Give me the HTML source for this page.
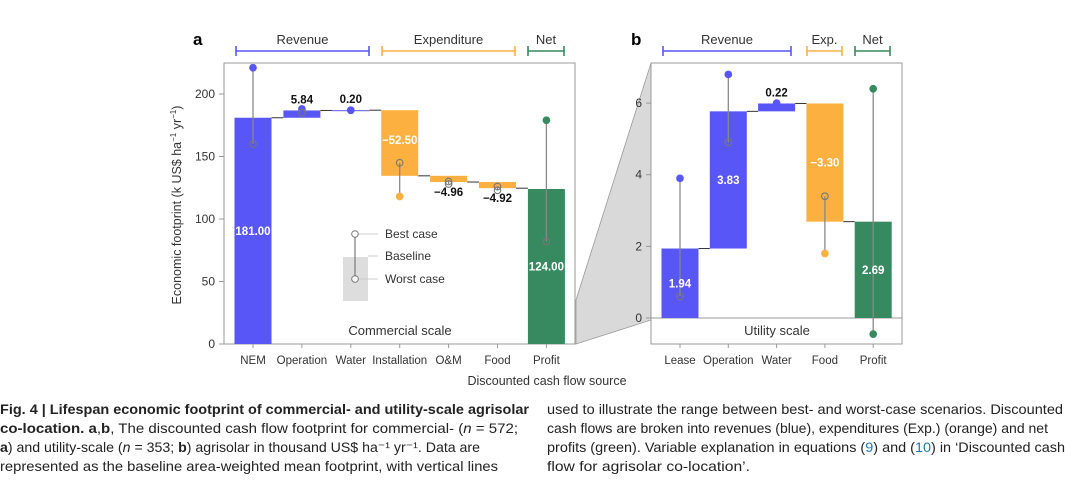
<!DOCTYPE html>
<html><head><meta charset="utf-8"><style>
body{margin:0;background:#fff;width:1080px;height:496px;overflow:hidden;font-family:"Liberation Sans",sans-serif}
svg text{font-family:"Liberation Sans",sans-serif}
</style></head><body>
<svg id="fig" width="1080" height="496" viewBox="0 0 1080 496" xmlns="http://www.w3.org/2000/svg">
<polygon points="576,300 651,63 651,320 576,344" fill="#d9d9d9" stroke="#999" stroke-width="0.8"/>
<g id="pa"></g>
<g id="pb"></g>
<text x="193" y="45" font-size="17" font-weight="bold">a</text>
<text x="631" y="45" font-size="17" font-weight="bold">b</text>
<text transform="translate(181,205) rotate(-90)" text-anchor="middle" font-size="12.5" fill="#333">Economic footprint (k US$ ha<tspan dy="-5" font-size="8">−1</tspan><tspan dy="5"> yr</tspan><tspan dy="-5" font-size="8">−1</tspan><tspan dy="5">)</tspan></text>
<text x="547" y="385" text-anchor="middle" font-size="12.5" fill="#333">Discounted cash flow source</text>
<g>
<rect x="343" y="257" width="25" height="44" fill="#ddd"/>
<line x1="355" y1="234" x2="355" y2="279" stroke="#777" stroke-width="1.2"/>
<line x1="359" y1="234" x2="378" y2="234" stroke="#ccc"/><line x1="368" y1="256" x2="378" y2="256" stroke="#ccc"/><line x1="359" y1="279" x2="378" y2="279" stroke="#ccc"/>
<circle cx="355" cy="234" r="3.3" fill="#fff" stroke="#777"/><circle cx="355" cy="279" r="3.3" fill="#fff" stroke="#777"/>
<text x="385" y="238" font-size="12" fill="#333">Best case</text>
<text x="385" y="260" font-size="12" fill="#333">Baseline</text>
<text x="385" y="283" font-size="12" fill="#333">Worst case</text>
</g>
<text x="400" y="335" text-anchor="middle" font-size="13" fill="#333">Commercial scale</text>
<text x="777" y="335" text-anchor="middle" font-size="13" fill="#333">Utility scale</text>
<g font-size="14" fill="#222">
<text x="0" y="414" textLength="529" lengthAdjust="spacingAndGlyphs"><tspan font-weight="bold">Fig. 4 | Lifespan economic footprint of commercial- and utility-scale agrisolar</tspan></text>
<text x="0" y="433" textLength="518" lengthAdjust="spacingAndGlyphs"><tspan font-weight="bold">co-location. a</tspan>,<tspan font-weight="bold">b</tspan>, The discounted cash flow footprint for commercial- (<tspan font-style="italic">n</tspan> = 572;</text>
<text x="0" y="452" textLength="480" lengthAdjust="spacingAndGlyphs"><tspan font-weight="bold">a</tspan>) and utility-scale (<tspan font-style="italic">n</tspan> = 353; <tspan font-weight="bold">b</tspan>) agrisolar in thousand US$ ha⁻¹ yr⁻¹. Data are</text>
<text x="0" y="471" textLength="498" lengthAdjust="spacingAndGlyphs">represented as the baseline area-weighted mean footprint, with vertical lines</text>
<text x="547" y="414" textLength="516" lengthAdjust="spacingAndGlyphs">used to illustrate the range between best- and worst-case scenarios. Discounted</text>
<text x="547" y="433" textLength="501" lengthAdjust="spacingAndGlyphs">cash flows are broken into revenues (blue), expenditures (Exp.) (orange) and net</text>
<text x="547" y="452" textLength="518" lengthAdjust="spacingAndGlyphs">profits (green). Variable explanation in equations (<tspan fill="#1a7ab8">9</tspan>) and (<tspan fill="#1a7ab8">10</tspan>) in ‘Discounted cash</text>
<text x="547" y="471" textLength="203" lengthAdjust="spacingAndGlyphs">flow for agrisolar co-location’.</text>
</g>
</svg>
<script>
// Panel a data
const catsA = ["NEM","Operation","Water","Installation","O&M","Food","Profit"];
const deltaA = [181.00, 5.84, 0.20, -52.50, -4.96, -4.92, 124.00];
const labelsA = ["181.00","5.84","0.20","−52.50","−4.96","−4.92","124.00"];
const bestA = [221, 188, 187, 145, 130, 126, 179];
const worstA = [160, 185, 187, 118, 128, 123, 82];
const ticksA = [0, 50, 100, 150, 200];
// Panel b data
const catsB = ["Lease","Operation","Water","Food","Profit"];
const deltaB = [1.94, 3.83, 0.22, -3.30, 2.69];
const labelsB = ["1.94","3.83","0.22","−3.30","2.69"];
const bestB = [3.9, 6.8, 6.0, 3.4, 6.4];
const worstB = [0.6, 4.9, 5.95, 1.8, -0.45];
const ticksB = [0, 2, 4, 6];

const NS="http://www.w3.org/2000/svg";
const BLUE="#5856f6",ORANGE="#fbb040",GREEN="#378a5f";
function mk(p,tag,attrs,txt){const e=document.createElementNS(NS,tag);for(const k in attrs)e.setAttribute(k,attrs[k]);if(txt!==undefined)e.textContent=txt;p.appendChild(e);return e;}

function panel(g,cfg){
  const {cats,delta,labels,best,worst,ticks,x0,x1,y0,y1,vmin,vmax,cx0,step,kinds,filledBest,filledWorst,groups}=cfg;
  const y=v=>y1-(v-vmin)/(vmax-vmin)*(y1-y0);
  const x=i=>cx0+i*step;
  const bw=37;
  const fr=mk(g,'rect',{x:x0,y:y0,width:x1-x0,height:cfg.y1b-y0,fill:'none',stroke:'#999','stroke-width':1});
  
  if(cfg.y1b!==y1){const zl=mk(g,'line',{x1:x0,x2:x1,y1:y(0),y2:y(0),stroke:'#999'});}
  ticks.forEach(t=>{
    const tl=mk(g,'line',{x1:x0-5,x2:x0,y1:y(t),y2:y(t),stroke:'#999'});
    
    const tt=mk(g,'text',{x:x0-9,y:y(t)+4,'text-anchor':'end','font-size':12,fill:'#333'},String(t));
    
  });
  let run=0;
  cats.forEach((c,i)=>{
    const k=kinds[i];let lo,hi;
    if(k==='net'){lo=0;hi=delta[i];run=delta[i];}
    else{const s=run;run+=delta[i];lo=Math.min(s,run);hi=Math.max(s,run);}
    const col=k==='rev'?BLUE:k==='exp'?ORANGE:GREEN;
    if(i<cats.length-1){const nl=mk(g,'line',{x1:x(i)+bw/2,x2:x(i+1)-bw/2,y1:y(run),y2:y(run),stroke:'#333','stroke-width':1});}
    const r=mk(g,'rect',{x:x(i)-bw/2,y:y(hi),width:bw,height:Math.max(1,y(lo)-y(hi)),fill:col});
    
    
    const wl=mk(g,'line',{x1:x(i),x2:x(i),y1:y(best[i]),y2:y(worst[i]),stroke:'#888','stroke-width':1.3});
    
    [[best[i],filledBest[i]],[worst[i],filledWorst[i]]].forEach(([v,f])=>{
      const d=mk(g,'circle',{cx:x(i),cy:y(v),r:3.3,fill:f?col:'none',stroke:f?col:'#777','stroke-width':1.1});
      
    });
    const h=y(lo)-y(hi);let ly,fill;
    if(h>22){ly=(y(lo)+y(hi))/2+4;fill='#fff';}
    else if(delta[i]>=0){ly=y(hi)-7;fill='#111';}else{ly=y(lo)+14;fill='#111';}
    if(cfg.labelY&&cfg.labelY[i]!==null){ly=y(cfg.labelY[i]);}
    const lt=mk(g,'text',{x:x(i),y:ly,'text-anchor':'middle','font-size':11.5,'font-weight':'bold',fill:fill},labels[i]);
    
    const xt=mk(g,'line',{x1:x(i),x2:x(i),y1:cfg.y1b,y2:cfg.y1b+4,stroke:'#999'});
    
    const xl=mk(g,'text',{x:x(i),y:cfg.y1b+20,'text-anchor':'middle','font-size':11.5,fill:'#333'},c);
    
  });
  groups.forEach(([name,a,b,col])=>{
    const gl=mk(g,'path',{d:`M${a},46V56M${a},51H${b}M${b},46V56`,stroke:col,'stroke-width':1.6,fill:'none'});
    
    const gt=mk(g,'text',{x:(a+b)/2,y:44,'text-anchor':'middle','font-size':13,fill:'#333'},name);
    
  });
}
panel(document.getElementById('pa'),{cats:catsA,delta:deltaA,labels:labelsA,best:bestA,worst:worstA,ticks:ticksA,
  x0:224,x1:575,y0:63,y1:344,y1b:344,vmin:0,vmax:224.8,cx0:253,step:48.9,
  kinds:['rev','rev','rev','exp','exp','exp','net'],
  filledBest:[true,true,true,false,false,false,true],filledWorst:[false,false,true,true,false,false,false],
  labelY:[null,null,null,160,null,null,null],
  groups:[["Revenue",236,369,BLUE],["Expenditure",382,515,ORANGE],["Net",528,564,GREEN]]});
panel(document.getElementById('pb'),{cats:catsB,delta:deltaB,labels:labelsB,best:bestB,worst:worstB,ticks:ticksB,
  x0:651,x1:902,y0:63,y1:318,y1b:344,vmin:0,vmax:7.12,cx0:680,step:48.3,
  kinds:['rev','rev','rev','exp','net'],
  filledBest:[true,true,true,false,true],filledWorst:[false,false,true,true,true],
  labelY:[null,null,null,null,null],
  groups:[["Revenue",663,791,BLUE],["Exp.",807,842,ORANGE],["Net",855,890,GREEN]]});
</script>
</body></html>
